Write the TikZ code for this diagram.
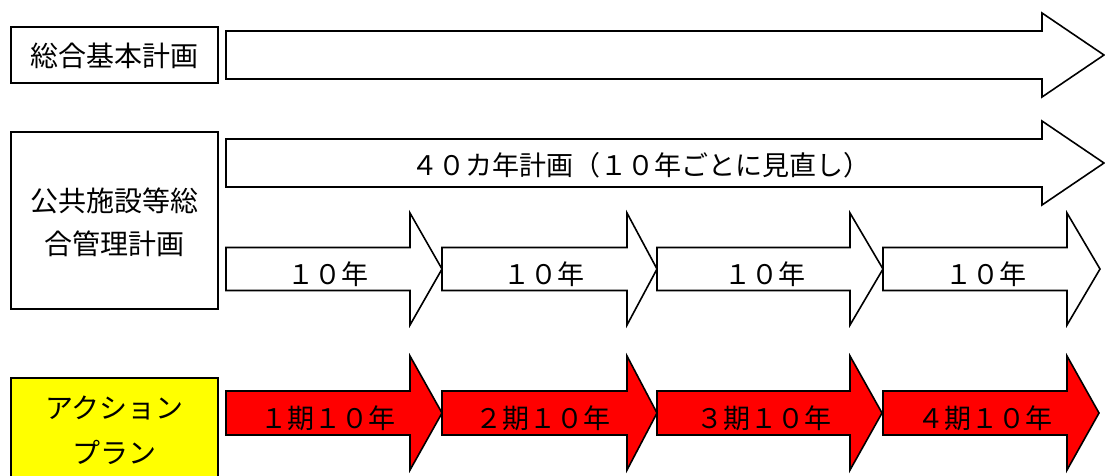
\documentclass[tikz,border=0pt]{standalone}
\usepackage{fontspec}
\setmainfont{Noto Sans CJK JP}
\definecolor{planred}{RGB}{255,0,0}
\definecolor{planyellow}{RGB}{255,255,0}
\newcommand\blockarrow[7]{%
  \draw[#7] (#1,{#4-#5}) -- (#2,{#4-#5}) -- (#2,{#4-#6}) -- (#3,#4)
    -- (#2,{#4+#6}) -- (#2,{#4+#5}) -- (#1,{#4+#5}) -- cycle;}
\begin{document}
\begin{tikzpicture}[x=1pt,y=-1pt,
  lbl/.style={font=\fontsize{27}{30}\selectfont, inner sep=0pt},
  boxlbl/.style={font=\fontsize{28}{30}\selectfont, inner sep=0pt},
  box/.style={draw=black, line width=1.8pt, fill=white, inner sep=0pt},
  whitearrow/.style={draw=black, line width=1.6pt, fill=white, line join=miter},
  redarrow/.style={draw=black, line width=1.6pt, fill=planred, line join=miter}]
\useasboundingbox[fill=white] (0,0) rectangle (1105,475);

% left boxes
\node[box, minimum width=207pt, minimum height=56pt] (b1) at (114.5,55) {};
\node[boxlbl] (t1) at (114.5,56) {総合基本計画};
\node[box, minimum width=207pt, minimum height=177pt] (b2) at (114.5,220.5) {};
\node[boxlbl, align=center, font=\fontsize{28}{43}\selectfont] (t2) at (114.5,222) {公共施設等総\\合管理計画};
\node[box, fill=planyellow, minimum width=207pt, minimum height=130pt] (b3) at (114.5,443) {};
\node[boxlbl, align=center, font=\fontsize{28}{45}\selectfont] (t3) at (114.5,430) {アクション\\プラン};

% long arrows
\blockarrow{226}{1042}{1104}{55}{24}{42}{whitearrow}
\blockarrow{226}{1042}{1104}{163}{24}{42}{whitearrow}
\node[lbl] (t40) at (641,165) {４０カ年計画（１０年ごとに見直し）};

% 10-year arrows
\blockarrow{226}{410}{442}{269}{21.5}{56}{whitearrow}
\blockarrow{442}{627}{657}{269}{21.5}{56}{whitearrow}
\blockarrow{657}{850}{883}{269}{21.5}{56}{whitearrow}
\blockarrow{883}{1067}{1100}{269}{21.5}{56}{whitearrow}
\node[lbl] (y1) at (328,274) {１０年};
\node[lbl] (y2) at (544,274) {１０年};
\node[lbl] (y3) at (765,274) {１０年};
\node[lbl] (y4) at (986,274) {１０年};

% action plan arrows
\blockarrow{226}{410}{442}{413}{22}{57}{redarrow}
\blockarrow{442}{627}{657}{413}{22}{57}{redarrow}
\blockarrow{657}{850}{882}{413}{22}{57}{redarrow}
\blockarrow{883}{1067}{1099}{413}{22}{57}{redarrow}
\node[lbl] (p1) at (328,418) {１期１０年};
\node[lbl] (p2) at (543,418) {２期１０年};
\node[lbl] (p3) at (764,418) {３期１０年};
\node[lbl] (p4) at (985,418) {４期１０年};
\end{tikzpicture}
\end{document}
